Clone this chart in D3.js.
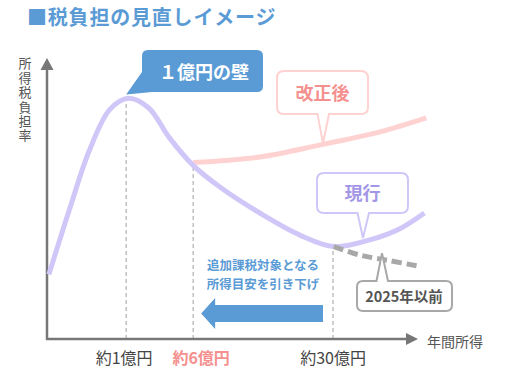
<!DOCTYPE html>
<html><head><meta charset="utf-8">
<script src="https://cdn.jsdelivr.net/npm/d3@7"></script>
<style>
html,body{margin:0;padding:0;background:#fff;}
svg{display:block;font-family:"Noto Sans CJK JP","Noto Sans",sans-serif;}
</style></head>
<body>
<script>
// ---- data (conceptual units: income index 0-100, tax burden index 0-100) ----
const currentX = [0.5, 6, 11.5, 17, 22, 27.5, 33, 39.5, 47, 57.5, 68.5, 77.5, 87.5, 95.5, 102];
const currentY = [23, 46, 67.5, 82, 86, 82.5, 72, 62, 54, 45, 37, 33, 35.5, 39.5, 45];
const revisedX = [39.5, 57.5, 74.5, 90, 102.5];
const revisedY = [63, 65, 69.5, 74, 79];
const before2025X = [77.5, 84.5, 92.5, 100.5];
const before2025Y = [33, 30, 28, 26];
const tickPositions = [21.4, 39.5, 77.3];
const tickLabels = ["約1億円", "約6億円", "約30億円"];
const tickHighlight = [false, true, false];

const W = 512, H = 380;
const svg = d3.select("body").append("svg").attr("width", W).attr("height", H);

const x = d3.scaleLinear().domain([0, 100]).range([47, 417]);
const y = d3.scaleLinear().domain([0, 100]).range([339, 59]);

const BLUE = "#5b9bd5", PURPLE = "#d0c7f8", PINK = "#ffd2d2", GRAY = "#a8a8a8", AXIS = "#777";

// title
svg.append("text").attr("x", 27).attr("y", 25).attr("fill", BLUE)
  .attr("font-size", 20).attr("font-weight", "bold").attr("letter-spacing", 0.8)
  .text("■税負担の見直しイメージ");

// dashed verticals
const curveAt = (xs, ys, v) => {
  let i = xs.findIndex(d => d >= v); if (i <= 0) return ys[0];
  const t = (v - xs[i-1]) / (xs[i] - xs[i-1]); return ys[i-1] + t * (ys[i] - ys[i-1]);
};
svg.selectAll(".vline").data(tickPositions).enter().append("line")
  .attr("x1", d => x(d)).attr("x2", d => x(d))
  .attr("y1", y(0)).attr("y2", d => y(curveAt(currentX, currentY, d)))
  .attr("stroke", "#b0b0b0").attr("stroke-width", 1.2).attr("stroke-dasharray", "4,3");

// axes
svg.append("line").attr("x1", x(0)).attr("x2", x(0)).attr("y1", y(0) + 1).attr("y2", 68)
  .attr("stroke", AXIS).attr("stroke-width", 2.5);
svg.append("path").attr("d", `M${x(0)},58 L${x(0)-6.5},70 L${x(0)+6.5},70 Z`).attr("fill", AXIS);
svg.append("line").attr("x1", x(0) - 1).attr("x2", 408).attr("y1", y(0)).attr("y2", y(0))
  .attr("stroke", AXIS).attr("stroke-width", 2.5);
svg.append("path").attr("d", `M418,${y(0)} L406,${y(0)-6} L406,${y(0)+6} Z`).attr("fill", AXIS);

// axis titles (vertical writing)
svg.append("text").attr("x", 25).attr("y", 57)
  .style("writing-mode", "vertical-rl").attr("letter-spacing", 1.4)
  .attr("font-size", 13).attr("fill", "#555").text("所得税負担率");
svg.append("text").attr("x", 427).attr("y", 347).attr("font-size", 14).attr("fill", "#555").text("年間所得");

// tick labels
svg.selectAll(".tl").data(tickLabels).enter().append("text")
  .attr("x", (d, i) => x(tickPositions[i]) - (i === 0 ? 2 : 0) + (i === 1 ? 8 : 0))
  .attr("y", 364).attr("text-anchor", "middle").attr("font-size", 16)
  .attr("font-weight", (d, i) => tickHighlight[i] ? "bold" : "normal")
  .attr("fill", (d, i) => tickHighlight[i] ? "#f4908e" : "#444").text(d => d);

// lines
const line = d3.line().x(d => x(d[0])).y(d => y(d[1])).curve(d3.curveCatmullRom.alpha(0.5));
const zip = (a, b) => a.map((v, i) => [v, b[i]]);
svg.append("path").attr("d", line(zip(revisedX, revisedY))).attr("fill", "none")
  .attr("stroke", PINK).attr("stroke-width", 5);
svg.append("path").attr("d", line(zip(currentX, currentY))).attr("fill", "none")
  .attr("stroke", PURPLE).attr("stroke-width", 5).attr("stroke-linecap", "butt");
svg.append("path").attr("d", line(zip(before2025X, before2025Y))).attr("fill", "none")
  .attr("stroke", GRAY).attr("stroke-width", 5).attr("stroke-dasharray", "10,5");

// callout helpers
function boxBottom(x0, y0, x1, y1, r, bl, br, tx, ty) {
  return `M${x0+r},${y0} H${x1-r} Q${x1},${y0} ${x1},${y0+r} V${y1-r} Q${x1},${y1} ${x1-r},${y1} H${br} L${tx},${ty} L${bl},${y1} H${x0+r} Q${x0},${y1} ${x0},${y1-r} V${y0+r} Q${x0},${y0} ${x0+r},${y0} Z`;
}
function boxTop(x0, y0, x1, y1, r, bl, br, tx, ty) {
  return `M${x0+r},${y0} H${bl} L${tx},${ty} L${br},${y0} H${x1-r} Q${x1},${y0} ${x1},${y0+r} V${y1-r} Q${x1},${y1} ${x1-r},${y1} H${x0+r} Q${x0},${y1} ${x0},${y1-r} V${y0+r} Q${x0},${y0} ${x0+r},${y0} Z`;
}

// 1億円の壁 callout (blue)
{
  const tx = x(tickPositions[0]), ty = y(curveAt(currentX, currentY, tickPositions[0])) - 5;
  const x0 = 142, y0 = 50, x1 = 263, y1 = 92, r = 6;
  svg.append("path").attr("d",
    `M${x0+r},${y0} H${x1-r} Q${x1},${y0} ${x1},${y0+r} V${y1-r} Q${x1},${y1} ${x1-r},${y1} H${x0+10} L${tx},${ty} L${x0},${y0+22} V${y0+r} Q${x0},${y0} ${x0+r},${y0} Z`)
    .attr("fill", BLUE);
  svg.append("text").attr("x", 204).attr("y", 78.5).attr("text-anchor", "middle")
    .attr("font-size", 18).attr("font-weight", "bold").attr("fill", "#fff").text("１億円の壁");
}

// 改正後 callout (pink)
{
  const tx = 323, ty = y(curveAt(revisedX, revisedY, (323 - 47) / 3.7)) - 1;
  svg.append("path").attr("d", boxBottom(277, 71, 368, 114, 7, 317.5, 329, tx, ty))
    .attr("fill", "#fff").attr("stroke", PINK).attr("stroke-width", 2);
  svg.append("text").attr("x", 322.5).attr("y", 99.5).attr("text-anchor", "middle")
    .attr("font-size", 18).attr("font-weight", "bold").attr("fill", "#f4908e").text("改正後");
}

// 現行 callout (purple)
{
  const tx = 363, ty = y(curveAt(currentX, currentY, (363 - 47) / 3.7)) - 3;
  svg.append("path").attr("d", boxBottom(317, 173, 408, 213, 7, 357.5, 369, tx, ty))
    .attr("fill", "#fff").attr("stroke", PURPLE).attr("stroke-width", 2);
  svg.append("text").attr("x", 362.5).attr("y", 199.5).attr("text-anchor", "middle")
    .attr("font-size", 18).attr("font-weight", "bold").attr("fill", "#a396e6").text("現行");
}

// 2025年以前 callout (gray)
{
  const tx = 382, ty = y(curveAt(before2025X, before2025Y, (382 - 47) / 3.7)) - 6;
  svg.append("path").attr("d", boxTop(357, 281, 452, 311, 6, 376.5, 388, tx, ty))
    .attr("fill", "#fff").attr("stroke", GRAY).attr("stroke-width", 2);
  svg.append("text").attr("x", 404).attr("y", 302).attr("text-anchor", "middle")
    .attr("font-size", 14.5).attr("font-weight", "bold").attr("fill", "#555").text("2025年以前");
}

// blue text and arrow
svg.append("text").attr("x", 263).attr("y", 270).attr("text-anchor", "middle")
  .attr("font-size", 12.5).attr("font-weight", "bold").attr("fill", BLUE).text("追加課税対象となる");
svg.append("text").attr("x", 263).attr("y", 289).attr("text-anchor", "middle")
  .attr("font-size", 12.5).attr("font-weight", "bold").attr("fill", BLUE).text("所得目安を引き下げ");
{
  const xr = x(tickPositions[2]) - 10, xl = x(tickPositions[1]) + 8, cy = 313.5;
  svg.append("path").attr("d",
    `M${xl},${cy} L${xl+14},${cy-15.5} L${xl+14},${cy-8.5} L${xr},${cy-8.5} L${xr},${cy+8.5} L${xl+14},${cy+8.5} L${xl+14},${cy+15.5} Z`)
    .attr("fill", BLUE);
}
</script>
</body></html>
